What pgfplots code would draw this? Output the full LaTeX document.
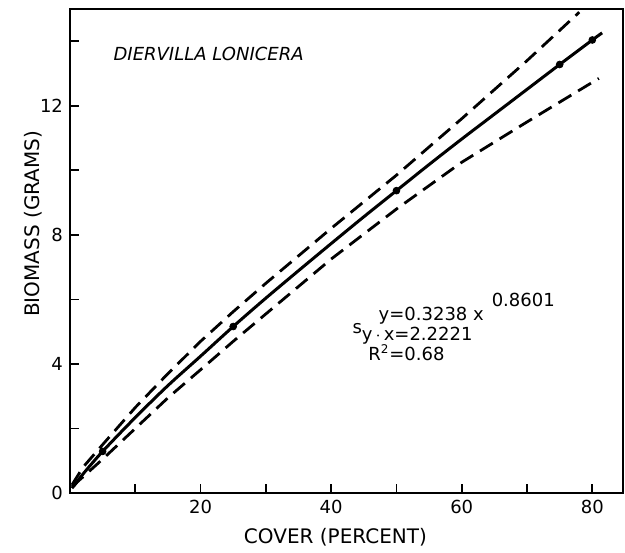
\documentclass[border=0pt]{standalone}
\usepackage{fontspec}
\setmainfont{DejaVu Sans}
\usepackage{pgfplots}
\pgfplotsset{compat=1.18}

% fitted curve and confidence band
\begin{document}
\begin{tikzpicture}
\begin{axis}[
  scale only axis,
  width=276.5pt, height=242pt,
  xmin=0, xmax=84.7,
  ymin=0, ymax=15,
  axis line style={line width=1pt},
  tick pos=left, tick align=inside,
  xtick={20,40,60,80}, minor xtick={10,30,50,70},
  ytick={0,4,8,12}, minor ytick={2,6,10,14},
  major tick length=4.5pt, minor tick length=4.5pt,
  every tick/.style={black, line width=0.9pt},
  /pgf/number format/assume math mode=true,
  ticklabel style={font=\fontsize{9}{11}\selectfont},
  xlabel={COVER (PERCENT)},
  ylabel={BIOMASS (GRAMS)},
  label style={font=\fontsize{11.5}{13}\selectfont},
  every axis x label/.style={at={(axis description cs:0.48,-0.092)}, anchor=center},
  every axis y label/.style={at={(axis description cs:-0.066,0.556)}, rotate=90, anchor=center},
  clip=false,
]
% upper confidence limit
\addplot[black, line width=1.4pt, dash pattern=on 7.5pt off 4pt] coordinates {
  (0.3,0.25) (2,0.8) (5,1.5) (10,2.65) (15,3.7) (20,4.7) (25,5.62)
  (30,6.5) (40,8.2) (50,9.85) (60,11.6) (70,13.4) (78,14.9)
};
% lower confidence limit
\addplot[black, line width=1.4pt, dash pattern=on 7.5pt off 4pt] coordinates {
  (0.3,0.2) (2,0.5) (5,1.05) (10,2.0) (15,2.95) (20,3.82) (25,4.7)
  (30,5.55) (40,7.25) (50,8.8) (60,10.25) (70,11.5) (81,12.85)
};
% fitted curve
\addplot[black, line width=1.5pt, smooth] coordinates {
  (0.3,0.15) (1,0.32) (2,0.59) (5,1.29) (10,2.34) (15,3.33) (20,4.24)
  (25,5.16) (30,6.04) (35,6.89) (40,7.73) (45,8.56) (50,9.37) (55,10.18)
  (60,10.97) (65,11.74) (70,12.51) (75,13.28) (80,14.04) (81.5,14.26)
};
% observations
\addplot[only marks, mark=*, mark size=1.7pt, black] coordinates {
  (5,1.29) (25,5.16) (50,9.37) (75,13.28) (80,14.04)
};
\coordinate (O) at (rel axis cs:0,0);
\node[anchor=west, font=\fontsize{9}{11}\selectfont\itshape] at (axis cs:5.6,13.6) {DIERVILLA LONICERA};
\node[anchor=base west, font=\fontsize{9}{11}\selectfont] at (axis cs:46.2,5.35)
  {y=0.3238 x\hspace{4pt}\raisebox{7pt}{0.8601}};
\node[anchor=base west, font=\fontsize{9}{11}\selectfont] at (axis cs:42.2,4.72)
  {\raisebox{3.5pt}{s}y\,$\cdot$\,x=2.2221};
\node[anchor=base west, font=\fontsize{9}{11}\selectfont] at (axis cs:44.6,4.1)
  {R\textsuperscript{2}=0.68};
\end{axis}
\pgfresetboundingbox
\path (O) ++(-35pt,-29.5pt) rectangle ++(312.5pt,276pt);
\end{tikzpicture}
\end{document}
